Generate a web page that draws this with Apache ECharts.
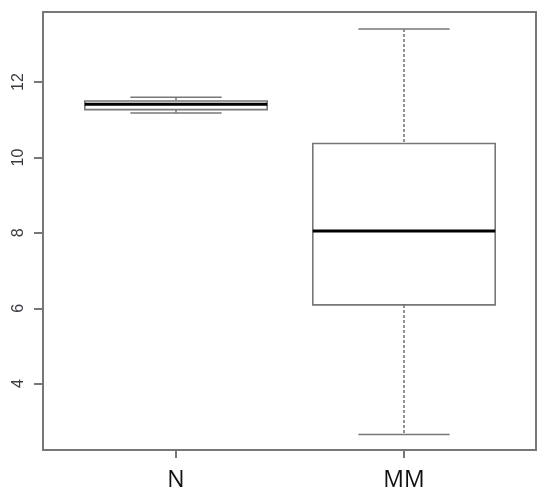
<!DOCTYPE html>
<html>
<head>
<meta charset="utf-8">
<script src="https://cdn.jsdelivr.net/npm/echarts@6/dist/echarts.min.js"></script>
<style>
  html, body { margin: 0; padding: 0; background: #fff; }
  #chart { width: 550px; height: 501px; }
</style>
</head>
<body>
<div id="chart"></div>
<script>
// box statistics
const categories = ['N', 'MM'];
const lowerWhisker = [11.18, 2.65];
const q1 = [11.27, 6.09];
const median = [11.41, 8.05];
const q3 = [11.50, 10.37];
const upperWhisker = [11.60, 13.41];
const yTicks = [4, 6, 8, 10, 12];
const yMin = 2.24;
const yMax = 13.86;

const boxData = categories.map((c, i) => [i, lowerWhisker[i], q1[i], median[i], q3[i], upperWhisker[i]]);

const grey = '#777';

// draws one R-style box: dashed whiskers, short caps, thick median
function renderBox(params, api) {
  const i = api.value(0);
  const band = api.size([1, 0])[0];
  const boxW = band * 0.8;
  const capW = band * 0.4;
  const lw = api.coord([i, api.value(1)]);
  const b1 = api.coord([i, api.value(2)]);
  const md = api.coord([i, api.value(3)]);
  const b3 = api.coord([i, api.value(4)]);
  const uw = api.coord([i, api.value(5)]);
  const cx = lw[0];
  const line = (x1, y1, x2, y2, style) => ({ type: 'line', shape: { x1, y1, x2, y2 }, style });
  const solid = { stroke: grey, lineWidth: 1.6 };
  const dashed = { stroke: grey, lineWidth: 1.6, lineDash: [3, 2] };
  return {
    type: 'group',
    children: [
      line(cx, uw[1], cx, b3[1], dashed),
      line(cx, b1[1], cx, lw[1], dashed),
      line(cx - capW / 2, uw[1], cx + capW / 2, uw[1], solid),
      line(cx - capW / 2, lw[1], cx + capW / 2, lw[1], solid),
      {
        type: 'rect',
        shape: { x: cx - boxW / 2, y: b3[1], width: boxW, height: b1[1] - b3[1] },
        style: { fill: '#fff', stroke: grey, lineWidth: 1.6 }
      },
      line(cx - boxW / 2, md[1], cx + boxW / 2, md[1], { stroke: '#000', lineWidth: 3 })
    ]
  };
}

const chart = echarts.init(document.getElementById('chart'));
chart.setOption({
  backgroundColor: '#fff',
  animation: false,
  grid: [
    // outer frame + y axis
    { left: 43, right: 14, top: 12, bottom: 51, show: true, borderColor: grey, borderWidth: 2, backgroundColor: 'transparent' },
    // inner grid that places the two categories like R does
    { left: 62, right: 32, top: 12, bottom: 51 }
  ],
  xAxis: [
    { gridIndex: 0, type: 'value', show: false, min: 0, max: 1 },
    {
      gridIndex: 1,
      type: 'category',
      data: categories,
      axisLine: { show: false },
      axisTick: { show: true, alignWithLabel: true, length: 8, lineStyle: { color: grey, width: 2 } },
      axisLabel: { color: '#111', fontSize: 23, fontFamily: 'Open Sans', margin: 19 },
      splitLine: { show: false }
    }
  ],
  yAxis: [
    {
      gridIndex: 0,
      type: 'value',
      min: yMin,
      max: yMax,
      axisLine: { show: false },
      axisTick: { show: true, length: 9, customValues: yTicks, lineStyle: { color: grey, width: 2 } },
      axisLabel: { rotate: 90, customValues: yTicks, color: '#3a3a44', fontSize: 16, fontFamily: 'Liberation Sans', margin: 16 },
      splitLine: { show: false }
    },
    { gridIndex: 1, type: 'value', min: yMin, max: yMax, show: false }
  ],
  series: [
    {
      type: 'custom',
      xAxisIndex: 1,
      yAxisIndex: 1,
      renderItem: renderBox,
      encode: { x: 0, y: [1, 2, 3, 4, 5] },
      data: boxData
    }
  ]
});
</script>
</body>
</html>
